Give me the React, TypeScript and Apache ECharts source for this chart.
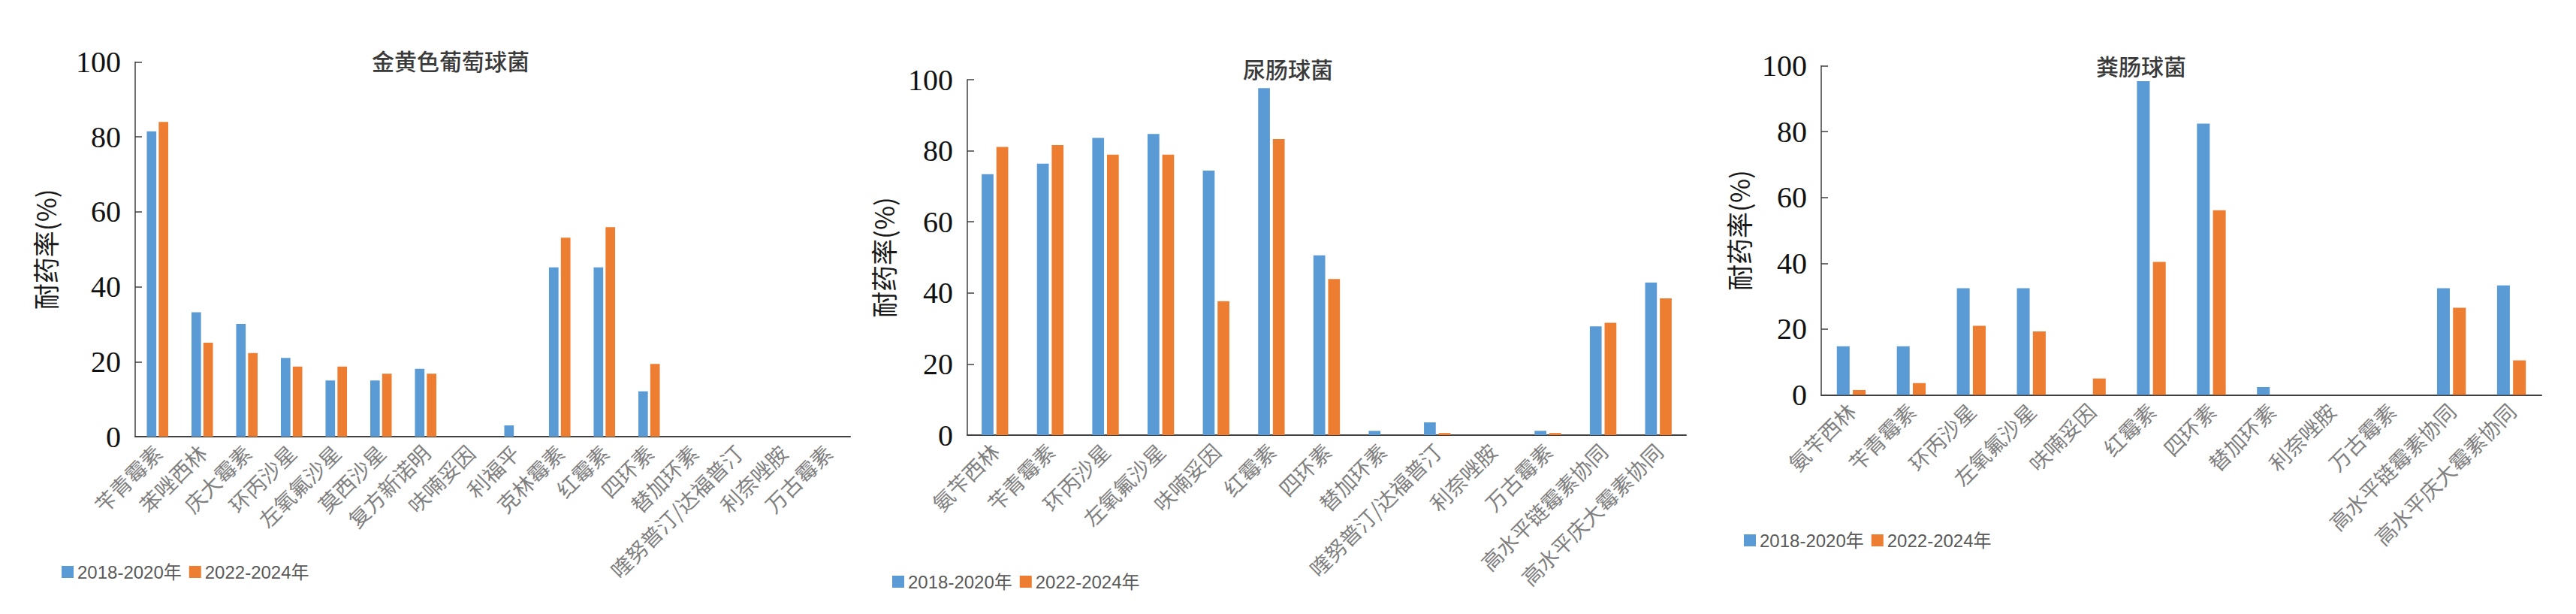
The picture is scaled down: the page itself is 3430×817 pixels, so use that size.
import React, { useEffect, useRef } from "react";
import * as echarts from "echarts";

const seriesNames = ["2018-2020年", "2022-2024年"];
const yAxisName = "耐药率(%)";
const yMin = 0;
const yMax = 100;
const yInterval = 20;

const saTitle = "金黄色葡萄球菌";
const saCategories = [
  "苄青霉素", "苯唑西林", "庆大霉素", "环丙沙星", "左氧氟沙星", "莫西沙星",
  "复方新诺明", "呋喃妥因", "利福平", "克林霉素", "红霉素", "四环素",
  "替加环素", "喹努普汀/达福普汀", "利奈唑胺", "万古霉素",
];
const saPeriod1 = [81.5, 33.2, 30.1, 21.0, 15.0, 15.0, 18.1, 0, 3.0, 45.2, 45.2, 12.1, 0, 0, 0, 0];
const saPeriod2 = [84.0, 25.1, 22.3, 18.7, 18.7, 16.8, 16.8, 0, 0, 53.1, 55.9, 19.4, 0, 0, 0, 0];

const efmTitle = "尿肠球菌";
const efmCategories = [
  "氨苄西林", "苄青霉素", "环丙沙星", "左氧氟沙星", "呋喃妥因", "红霉素",
  "四环素", "替加环素", "喹努普汀/达福普汀", "利奈唑胺", "万古霉素",
  "高水平链霉素协同", "高水平庆大霉素协同",
];
const efmPeriod1 = [73.4, 76.4, 83.6, 84.7, 74.4, 97.6, 50.6, 1.2, 3.6, 0, 1.2, 30.6, 42.9];
const efmPeriod2 = [81.1, 81.6, 78.9, 78.9, 37.7, 83.3, 43.9, 0, 0.6, 0, 0.6, 31.6, 38.5];

const efsTitle = "粪肠球菌";
const efsCategories = [
  "氨苄西林", "苄青霉素", "环丙沙星", "左氧氟沙星", "呋喃妥因", "红霉素",
  "四环素", "替加环素", "利奈唑胺", "万古霉素",
  "高水平链霉素协同", "高水平庆大霉素协同",
];
const efsPeriod1 = [14.8, 14.8, 32.4, 32.4, 0, 95.3, 82.4, 2.4, 0, 0, 32.4, 33.3];
const efsPeriod2 = [1.5, 3.6, 21.0, 19.3, 5.0, 40.4, 56.1, 0, 0, 0, 26.5, 10.5];

const colors = ["#5B9BD5", "#ED7D31"];

const panels = [
  { title: saTitle, categories: saCategories, values: [saPeriod1, saPeriod2] },
  { title: efmTitle, categories: efmCategories, values: [efmPeriod1, efmPeriod2] },
  { title: efsTitle, categories: efsCategories, values: [efsPeriod1, efsPeriod2] },
];

// layout (pixels)
const layouts = [
  { left: 180, right: 1132, top: 82.5, bottom: 581, titleX: 595, titleY: 77, legendX: 77, legendY: 756, nameGap: 103 },
  { left: 1288, right: 2245, top: 106, bottom: 579, titleX: 1710, titleY: 88, legendX: 1183, legendY: 769, nameGap: 95 },
  { left: 2425, right: 3384, top: 87.5, bottom: 525.5, titleX: 2846, titleY: 84, legendX: 2317, legendY: 714, nameGap: 93 },
];

const CJK = "'Noto Sans CJK SC', 'Noto Sans', sans-serif";
const SERIF = "'Liberation Serif', 'DejaVu Serif', serif";

export default function App() {
  const ref = useRef<HTMLDivElement>(null);

  useEffect(() => {
    document.body.style.margin = "0";
    if (!ref.current) return;
    const chart = echarts.init(ref.current, undefined, { renderer: "svg" });

    const grid: any[] = [];
    const xAxis: any[] = [];
    const yAxis: any[] = [];
    const title: any[] = [];
    const legend: any[] = [];
    const series: any[] = [];

    panels.forEach((p, i) => {
      const L = layouts[i];
      grid.push({
        left: L.left,
        top: L.top,
        width: L.right - L.left,
        height: L.bottom - L.top,
        containLabel: false,
      });
      title.push({
        text: p.title,
        left: L.titleX,
        top: L.titleY - 17,
        textAlign: "center",
        textStyle: {
          fontFamily: CJK,
          fontSize: 30,
          fontWeight: 500,
          color: "#3a3a3a",
        },
      });
      legend.push({
        data: seriesNames,
        left: L.legendX,
        top: L.legendY - 12,
        orient: "horizontal",
        icon: "rect",
        itemWidth: 16,
        itemHeight: 16,
        itemGap: 10,
        selectedMode: false,
        textStyle: {
          fontFamily: "'Liberation Sans', " + CJK,
          fontSize: 24,
          color: "#595959",
          padding: [0, 0, 0, 0],
        },
      });
      xAxis.push({
        type: "category",
        gridIndex: i,
        data: p.categories,
        axisLine: { lineStyle: { color: "#404040", width: 2 } },
        axisTick: { inside: true, length: 9, lineStyle: { color: "#404040", width: 1.5 } },
        axisLabel: {
          interval: 0,
          rotate: 45,
          margin: 16,
          fontFamily: CJK,
          fontSize: 28,
          color: "#808080",
        },
        splitLine: { show: false },
      });
      yAxis.push({
        type: "value",
        gridIndex: i,
        min: yMin,
        max: yMax,
        interval: yInterval,
        name: yAxisName,
        nameLocation: "middle",
        nameRotate: 90,
        nameGap: L.nameGap,
        nameTextStyle: { fontFamily: CJK, fontSize: 35, color: "#1a1a1a" },
        axisLine: { show: true, lineStyle: { color: "#404040", width: 1.5 } },
        axisTick: { show: true, inside: true, length: 9, lineStyle: { color: "#404040", width: 1.5 } },
        axisLabel: {
          margin: 19,
          fontFamily: SERIF,
          fontSize: 40,
          color: "#111",
        },
        splitLine: { show: false },
      });
      p.values.forEach((vals, k) => {
        series.push({
          type: "bar",
          name: seriesNames[k],
          xAxisIndex: i,
          yAxisIndex: i,
          data: vals,
          barGap: "25%",
          barCategoryGap: "52%",
          itemStyle: { color: colors[k] },
        });
      });
    });

    chart.setOption({
      animation: false,
      backgroundColor: "#ffffff",
      color: colors,
      title,
      legend,
      grid,
      xAxis,
      yAxis,
      series,
    });

    return () => {
      chart.dispose();
    };
  }, []);

  return <div ref={ref} style={{ width: 3430, height: 817 }} />;
}
